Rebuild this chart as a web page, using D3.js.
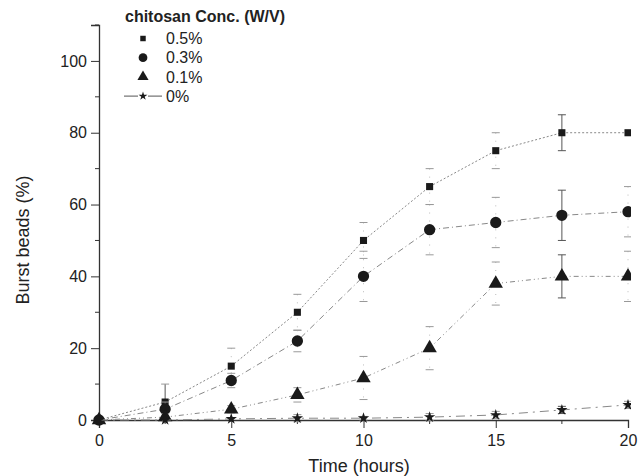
<!DOCTYPE html>
<html>
<head>
<meta charset="utf-8">
<script src="https://cdn.jsdelivr.net/npm/d3@7/dist/d3.min.js"></script>
<style>
  body { margin: 0; background: #fff; }
  text { font-family: Arial, "Liberation Sans", sans-serif; fill: #222; }
</style>
</head>
<body>
<div id="chart"></div>
<script>
// time points (hours)
var times = [0, 2.5, 5, 7.5, 10, 12.5, 15, 17.5, 20];

// burst beads (%) per chitosan concentration
var conc05 = [0, 5, 15, 30, 50, 65, 75, 80, 80];
var conc03 = [0, 3, 11, 22, 40, 53, 55, 57, 58];
var conc01 = [0, 0.8, 3, 7, 11.7, 20, 38, 40, 40];
var conc00 = [0, 0, 0.3, 0.5, 0.5, 0.8, 1.4, 2.8, 4.2];

// error (+/-)
var err05 = [0, 5, 5, 5, 5, 5, 5, 5, 0];
var err03 = [0, 2, 2, 3, 7, 7, 7, 7, 7];
var err01 = [0, 1, 1, 2, 6, 6, 6, 6, 7];
var err00 = [0, 0, 0, 1, 0.5, 1, 1, 1, 1];

var labels = ["0.5%", "0.3%", "0.1%", "0%"];
var legendTitle = "chitosan Conc. (W/V)";
var xTicks = [0, 5, 10, 15, 20];
var yTicks = [0, 20, 40, 60, 80, 100];

var series = [
  { name: labels[0], values: conc05, err: err05, symbol: d3.symbolSquare, size: 50, dash: "2,2" },
  { name: labels[1], values: conc03, err: err03, symbol: d3.symbolCircle, size: 100, dash: "6,3,1,3" },
  { name: labels[2], values: conc01, err: err01, symbol: d3.symbolTriangle, size: 90, dash: "5,3,1,3,1,3" },
  { name: labels[3], values: conc00, err: err00, symbol: d3.symbolStar, size: 40, dash: "9,5,2,5" }
];

var width = 640, height = 476;
var svg = d3.select("#chart").append("svg")
  .attr("width", width)
  .attr("height", height);

svg.append("clipPath").attr("id", "clip")
  .append("rect").attr("x", 0).attr("y", 0).attr("width", 631).attr("height", height);

var x = d3.scaleLinear().domain([0, 20]).range([99, 628]);
var y = d3.scaleLinear().domain([0, 110]).range([420, 25]);

// axes
var xAxis = svg.append("g").attr("transform", "translate(0,420)");
xAxis.call(d3.axisBottom(x).tickValues(xTicks).tickSize(8).tickPadding(4).tickFormat(d3.format("d")));
xAxis.selectAll(".minor").data(d3.range(2.5, 20, 5)).enter()
  .append("line")
  .attr("class", "minor")
  .attr("x1", function (d) { return x(d); })
  .attr("x2", function (d) { return x(d); })
  .attr("y1", 0).attr("y2", 4)
  .attr("stroke", "#333");

var yAxis = svg.append("g").attr("transform", "translate(99,0)");
yAxis.call(d3.axisLeft(y).tickValues(yTicks).tickSize(8).tickPadding(4));
yAxis.selectAll(".minor").data(d3.range(10, 120, 20)).enter()
  .append("line")
  .attr("class", "minor")
  .attr("y1", function (d) { return y(d); })
  .attr("y2", function (d) { return y(d); })
  .attr("x1", 0).attr("x2", -4)
  .attr("stroke", "#333");

svg.selectAll(".domain").attr("stroke", "#333").attr("stroke-width", 1.3);
svg.selectAll(".tick line").attr("stroke", "#333");
svg.selectAll(".tick text").style("font-size", "16px").attr("fill", "#222");
xAxis.selectAll(".tick text").attr("dy", "0.9em");

// titles
svg.append("text")
  .attr("x", 359).attr("y", 472)
  .attr("text-anchor", "middle")
  .style("font-size", "18px")
  .text("Time (hours)");

svg.append("text")
  .attr("transform", "translate(29,240) rotate(-90)")
  .attr("text-anchor", "middle")
  .style("font-size", "18px")
  .text("Burst beads (%)");

// lines
var line = d3.line()
  .x(function (d) { return x(d.t); })
  .y(function (d) { return y(d.v); });

var plot = svg.append("g").attr("clip-path", "url(#clip)");

series.forEach(function (s) {
  var pts = times.map(function (t, i) { return { t: t, v: s.values[i], e: s.err[i] }; });

  plot.append("path")
    .datum(pts)
    .attr("d", line)
    .attr("fill", "none")
    .attr("stroke", "#888")
    .attr("stroke-width", 1)
    .attr("stroke-dasharray", s.dash);

  // error bars
  var eb = plot.append("g").selectAll("g")
    .data(pts.filter(function (d) { return d.e > 0; }))
    .enter().append("g");

  eb.append("line")
    .attr("x1", function (d) { return x(d.t); })
    .attr("x2", function (d) { return x(d.t); })
    .attr("y1", function (d) { return y(d.v + d.e); })
    .attr("y2", function (d) { return y(d.v - d.e); })
    .attr("stroke", function (d) { return d.t == 17.5 || d.t == 2.5 ? "#555" : "#bbb"; })
    .attr("stroke-width", 1)
    .attr("stroke-dasharray", function (d) { return d.t == 17.5 || d.t == 2.5 ? null : "1,7"; });

  [1, -1].forEach(function (sign) {
    eb.append("line")
      .attr("x1", function (d) { return x(d.t) - 4; })
      .attr("x2", function (d) { return x(d.t) + 4; })
      .attr("y1", function (d) { return y(d.v + sign * d.e); })
      .attr("y2", function (d) { return y(d.v + sign * d.e); })
      .attr("stroke", function (d) { return d.t == 17.5 ? "#555" : "#999"; })
      .attr("stroke-width", 1);
  });

  plot.append("g").selectAll("path")
    .data(pts)
    .enter().append("path")
    .attr("transform", function (d) { return "translate(" + x(d.t) + "," + y(d.v) + ")"; })
    .attr("d", d3.symbol().type(s.symbol).size(s.size))
    .attr("fill", "#1a1a1a");
});

// legend
var legend = svg.append("g");
legend.append("text")
  .attr("x", 125).attr("y", 22)
  .style("font-size", "16px")
  .style("font-weight", "bold")
  .text(legendTitle);

var items = legend.selectAll(".item")
  .data(series)
  .enter().append("g")
  .attr("class", "item")
  .attr("transform", function (d, i) { return "translate(143," + (38.5 + i * 19.2) + ")"; });

items.filter(function (d, i) { return i == 3; })
  .append("g").call(function (g) {
    g.append("line").attr("x1", -19).attr("x2", -5).attr("stroke", "#555");
    g.append("line").attr("x1", 5).attr("x2", 19).attr("stroke", "#555");
  });

items.append("path")
  .attr("d", function (d) { return d3.symbol().type(d.symbol).size(d.size * 0.6)(); })
  .attr("fill", "#1a1a1a");

items.append("text")
  .attr("x", 23).attr("dy", "0.35em")
  .style("font-size", "16px")
  .text(function (d) { return d.name; });
</script>
</body>
</html>
